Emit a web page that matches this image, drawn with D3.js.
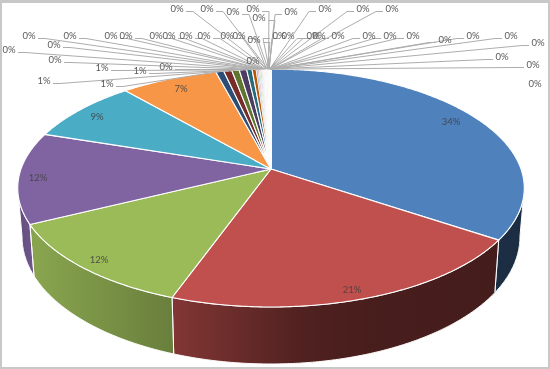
<!DOCTYPE html>
<html>
<head>
<meta charset="utf-8">
<script src="https://cdn.jsdelivr.net/npm/d3@7"></script>
<style>
  html, body { margin: 0; padding: 0; background: #c8c8c8; }
  /* the source is a soft screenshot */
  svg { display: block; filter: blur(0.35px); }
  text { font-family: Lato, "Open Sans", sans-serif; font-size: 9.5px; }
</style>
</head>
<body>
<script>
// slice shares in percent, clockwise from 12 o'clock
const bigValues = [34.4, 21.0, 12.2, 12.4, 8.6, 7.2]
const smallValues = [0.6, 0.6, 0.55, 0.55, 0.4, 0.3]
const tinyValues = [0.12, 0.1, 0.09, 0.08, 0.07, 0.06, 0.05, 0.05, 0.04, 0.04,
  0.04, 0.03, 0.03, 0.03, 0.03, 0.02, 0.02, 0.02, 0.02, 0.02,
  0.01, 0.01, 0.01, 0.01, 0.01, 0.01, 0.01, 0.01, 0.01, 0.01,
  0.005, 0.005, 0.005, 0.005, 0.005, 0.005, 0.005, 0.005]
const values = bigValues.concat(smallValues, tinyValues)

const baseColors = ['#4f81bd', '#c0504d', '#9bbb59', '#8064a2', '#4bacc6', '#f79646']
const darkColors = ['#2c4d75', '#772c2a', '#5f7530', '#4d3b62', '#276a7c', '#b65708']
const paleColors = ['#729aca', '#cd7371', '#afc97a', '#9c85b5', '#6fbdd1', '#f9ab6b',
  '#a7c0de', '#dea7a6', '#cddcaf', '#bfb1d0', '#a8d6e3', '#fbcba6']

// hand placed callout text, [x, y, has leader line], in slice order after the six big ones
const calloutSpots = [
  [107, 83, 1], [44, 80, 1], [140, 70, 1], [102, 67, 1], [166, 66, 1],
  [55, 59, 1], [9, 49, 1], [54, 44, 1], [29, 35, 1], [70, 35, 1],
  [111, 35, 1], [126, 35, 1], [156, 35, 1], [169, 35, 1], [186, 35, 1],
  [204, 35, 1], [227, 35, 1], [239, 35, 1], [253, 60, 0], [254, 39, 1],
  [177, 8, 1], [207, 8, 1], [233, 11, 1], [253, 8, 1], [259, 17, 1],
  [291, 11, 1], [279, 35, 1], [288, 35, 1], [313, 35, 1], [319, 35, 1],
  [325, 8, 1], [338, 35, 1], [363, 8, 1], [392, 8, 1], [369, 35, 1],
  [390, 35, 1], [413, 35, 1], [445, 39, 1], [473, 35, 1], [511, 35, 1],
  [538, 42, 1], [502, 56, 1], [533, 64, 1], [535, 83, 0]
]
const insideSpots = [[451, 121], [352, 289], [99, 259], [38, 177], [97, 116], [181, 88]]

const width = 550
const height = 369
// pie is a circle seen in perspective, apex sits above the middle of the ellipse
const cx = 271
const cy = 169
const radiusX = 250
const radiusY = 115.9
const tilt = -0.16
const baseScale = 0.983

const svg = d3.select('body').append('svg')
  .attr('width', width)
  .attr('height', height)
  .attr('viewBox', [0, 0, width, height])

svg.append('rect').attr('width', width).attr('height', height).attr('fill', '#c8c8c8')
svg.append('rect').attr('x', 2).attr('y', 3).attr('width', 546).attr('height', 364).attr('fill', '#fff')

const rim = (angle, t = 1) => {
  const s = -Math.cos(angle) * t
  const w = 1 + tilt * s
  return [cx + radiusX * Math.sin(angle) * t / w, cy + radiusY * s / w]
}
const base = angle => {
  const p = rim(angle)
  return [cx + (p[0] - cx) * baseScale, p[1] + 47 - 10 * Math.cos(angle)]
}
const sweep = (a, b) => {
  const n = Math.max(2, Math.ceil((b - a) / 0.01))
  return d3.range(n + 1).map(i => a + (b - a) * i / n)
}
const line = d3.line()

const sliceColor = d3.scaleOrdinal()
  .domain(d3.range(values.length))
  .range(baseColors.concat(darkColors, paleColors))

const slices = d3.pie().sort(null).value(d => d)(values)

// side wall gets darker going left to right
const shade = svg.append('defs').append('linearGradient')
  .attr('id', 'shade')
  .attr('gradientUnits', 'userSpaceOnUse')
  .attr('x1', 0).attr('x2', width).attr('y1', 0).attr('y2', 0)
const shadeStops = [[20, 0.78], [35, 0.88], [170, 0.68], [300, 0.42], [350, 0.38], [520, 0.35]]
shade.selectAll('stop').data(shadeStops).enter().append('stop')
  .attr('offset', d => d[0] / width)
  .attr('stop-color', '#000')
  .attr('stop-opacity', d => 1 - d[1])

const frontStart = Math.acos(tilt)
const frontEnd = 2 * Math.PI - frontStart
const wallPath = d => {
  const a = Math.max(d.startAngle, frontStart)
  const b = Math.min(d.endAngle, frontEnd)
  const angles = sweep(a, b)
  return line(angles.map(t => rim(t)).concat(angles.slice().reverse().map(base))) + 'Z'
}
const fronts = slices.filter(d => d.endAngle > frontStart && d.startAngle < frontEnd)

const walls = svg.append('g')
walls.selectAll('path.wall').data(fronts).enter().append('path')
  .attr('class', 'wall')
  .attr('d', wallPath)
  .attr('fill', d => sliceColor(d.index))
walls.selectAll('path.dark').data(fronts).enter().append('path')
  .attr('class', 'dark')
  .attr('d', wallPath)
  .attr('fill', 'url(#shade)')
  .attr('stroke', '#fff')
  .attr('stroke-width', 1)

svg.append('g').selectAll('path').data(slices).enter().append('path')
  .attr('d', d => line([[cx, cy]].concat(sweep(d.startAngle, d.endAngle).map(t => rim(t)))) + 'Z')
  .attr('fill', d => sliceColor(d.index))
  .attr('stroke', '#fff')
  .attr('stroke-width', d => d.index < bigValues.length + smallValues.length ? 1.1 : 0.7)
  .attr('stroke-linejoin', 'round')

const callouts = slices.slice(bigValues.length).map((d, i) => ({ slice: d, spot: calloutSpots[i] }))

svg.append('g')
  .attr('fill', 'none')
  .attr('stroke', '#adadad')
  .attr('stroke-width', 1)
  .selectAll('path').data(callouts.filter(d => d.spot[2])).enter().append('path')
  .attr('d', d => {
    const mid = (d.slice.startAngle + d.slice.endAngle) / 2
    const target = rim(mid)
    const dir = target[0] < d.spot[0] ? -1 : 1
    const startX = d.spot[0] + dir * 9
    const startY = d.spot[1] + 3.5
    return line([[startX, startY], [startX + dir * 7, startY], target])
  })

const pct = d3.format('.0%')
const total = d3.sum(values)

svg.append('g')
  .attr('fill', '#595959')
  .attr('text-anchor', 'middle')
  .attr('dominant-baseline', 'central')
  .selectAll('text').data(callouts).enter().append('text')
  .attr('x', d => d.spot[0])
  .attr('y', d => d.spot[1])
  .text(d => pct(d.slice.value / total))

svg.append('g')
  .attr('fill', '#404040')
  .attr('fill-opacity', 0.85)
  .attr('text-anchor', 'middle')
  .attr('dominant-baseline', 'central')
  .selectAll('text').data(slices.slice(0, bigValues.length)).enter().append('text')
  .attr('x', (d, i) => insideSpots[i][0])
  .attr('y', (d, i) => insideSpots[i][1])
  .text(d => pct(d.value / total))
</script>
</body>
</html>
